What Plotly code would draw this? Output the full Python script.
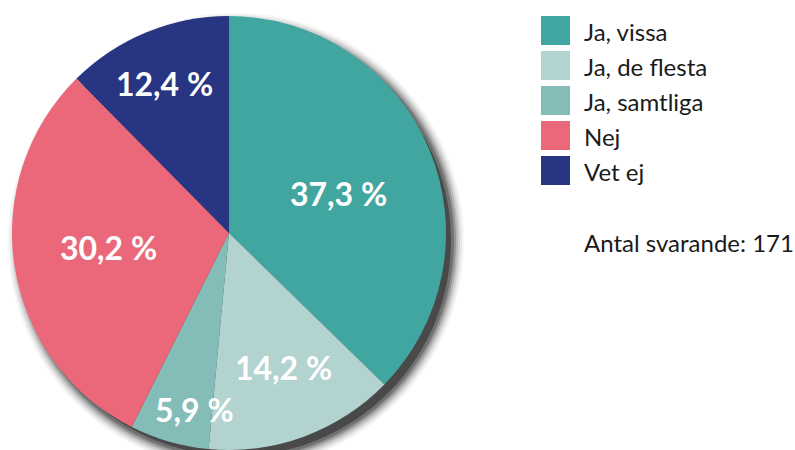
import math
import plotly.graph_objects as go

labels = ["Ja, vissa", "Ja, de flesta", "Ja, samtliga", "Nej", "Vet ej"]
values = [37.3, 14.2, 5.9, 30.2, 12.4]
colors = ["#41A6A0", "#B2D3D0", "#84BDB7", "#EB687A", "#283583"]
note = "Antal svarande: 171"

# label placement styling (radial fraction, angular tweak in degrees)
label_r = [0.535, 0.67, 0.83, 0.56, 0.75]
label_da = [3, -2, -5, 2, -1]

W, H = 795, 450
cx, cy, R = 229, 233, 217

def px(x):
    return x / W

def py(y):
    return 1 - y / H

fig = go.Figure()
fig.add_trace(go.Pie(
    labels=labels, values=values, sort=False, direction="clockwise", rotation=0,
    marker=dict(colors=colors, line=dict(width=0)),
    textinfo="none", hoverinfo="label+value", showlegend=False,
    domain=dict(x=[px(cx - R), px(cx + R)], y=[py(cy + R), py(cy - R)]),
))

shapes = []
# soft drop shadow
for grow, op in [(11, 0.04), (9, 0.06), (7, 0.09), (5, 0.13), (3, 0.18), (1, 0.24), (-2, 0.35)]:
    ox, oy = 7, 8
    shapes.append(dict(type="circle", xref="paper", yref="paper", layer="below",
                       x0=px(cx + ox - R - grow), x1=px(cx + ox + R + grow),
                       y0=py(cy + oy + R + grow), y1=py(cy + oy - R - grow),
                       fillcolor=f"rgba(0,0,0,{op})", line=dict(width=0)))

annotations = []
total = sum(values)
cum = 0.0
for v, rf, da in zip(values, label_r, label_da):
    mid = (cum + v / 2) / total * 360 + da
    cum += v
    a = math.radians(mid)
    x = cx + rf * R * math.sin(a)
    y = cy - rf * R * math.cos(a)
    txt = f"{v:.1f}".replace(".", ",") + " %"
    annotations.append(dict(x=px(x), y=py(y), xref="paper", yref="paper", text=txt,
                            showarrow=False, xanchor="center", yanchor="middle",
                            font=dict(family="Lato", size=32, color="white", weight="bold")))

lx, ly0, step, sz = 541, 16, 35, 29
for i, (lab, col) in enumerate(zip(labels, colors)):
    top = ly0 + i * step
    shapes.append(dict(type="rect", xref="paper", yref="paper",
                       x0=px(lx), x1=px(lx + sz), y0=py(top + sz), y1=py(top),
                       fillcolor=col, line=dict(width=0)))
    annotations.append(dict(x=px(582), y=py(top + sz / 2 + 1), xref="paper", yref="paper",
                            text=lab, showarrow=False, xanchor="left", yanchor="middle",
                            font=dict(family="Lato", size=24, color="#1a1a1a")))
annotations.append(dict(x=px(582), y=py(242), xref="paper", yref="paper",
                        text=note, showarrow=False, xanchor="left", yanchor="middle",
                        font=dict(family="Lato", size=24, color="#1a1a1a")))

fig.update_layout(width=W, height=H, margin=dict(l=0, r=0, t=0, b=0),
                  paper_bgcolor="white", plot_bgcolor="white",
                  shapes=shapes, annotations=annotations, showlegend=False)
fig.write_html("out.html")
